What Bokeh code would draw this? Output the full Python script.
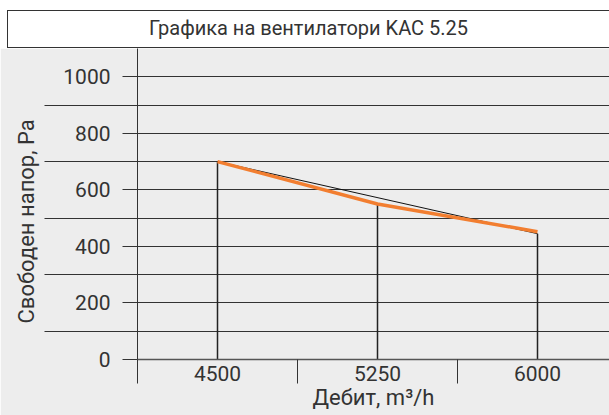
from bokeh.plotting import figure
from bokeh.models import (Range1d, FixedTicker, LinearAxis, Title, Div,
                          CustomLabelingPolicy)
from bokeh.layouts import column
from bokeh.embed import file_html
from bokeh.resources import INLINE

# ---- data ----
title_text = "Графика на вентилатори KAC 5.25"
flow_labels = ["4500", "5250", "6000"]
curve_pressure = [700, 550, 452]          # orange curve
line_flow_labels = ["4500", "6000"]       # black straight line
line_pressure = [700, 445]
drop_pressure = [700, 550, 445]           # vertical drop lines
y_major = [0, 200, 400, 600, 800, 1000]
y_minor = [100, 300, 500, 700, 900]
x_title = "Дебит, m³/h"
y_title = "Свободен напор, Pa"

BG = "#ededed"
INK = "#333333"
FONT = "Roboto"

# category positions (category i centred at i + 0.5)
pos = {lab: i + 0.5 for i, lab in enumerate(flow_labels)}
bounds = [float(i) for i in range(len(flow_labels) + 1)]

no_labels = CustomLabelingPolicy(code="return new Set()")

# ---- title box ----
header = Div(text=title_text, width=602, height=38, margin=(10, 0, 0, 7),
             styles={"border": "1px solid #333333", "border-right": "none",
                     "box-sizing": "border-box", "background-color": "white",
                     "font-family": FONT, "font-size": "20px", "color": INK,
                     "text-align": "center", "line-height": "35px"})

# ---- main figure ----
p = figure(width=609, height=367, x_range=Range1d(0, 2.95), y_range=Range1d(0, 1100),
           output_backend="svg", toolbar_location=None,
           min_border_left=137, min_border_right=0, min_border_top=0, min_border_bottom=56)
p.background_fill_color = BG
p.border_fill_color = BG
p.outline_line_color = None

# inner x axis: category boundary ticks + zero line
xb = p.xaxis[0]
xb.ticker = FixedTicker(ticks=bounds)
xb.major_tick_out = 24
xb.major_tick_in = 0
xb.major_tick_line_color = INK
xb.axis_line_color = "#555555"
xb.axis_line_width = 1.5
xb.major_label_policy = no_labels
xb.major_label_text_font_size = "0px"
xb.major_label_standoff = 0
xb.minor_tick_line_color = None

# outer x axis: category labels + title
xl = LinearAxis(ticker=FixedTicker(ticks=[pos[l] for l in flow_labels]))
xl.major_label_overrides = {pos[l]: l for l in flow_labels}
xl.axis_line_color = None
xl.major_tick_line_color = None
xl.minor_tick_line_color = None
xl.major_tick_out = 0
xl.major_tick_in = 0
xl.major_label_standoff = -18
xl.major_label_text_font = FONT
xl.major_label_text_font_size = "21px"
xl.major_label_text_color = INK
xl.axis_label = x_title
xl.axis_label_text_font = FONT
xl.axis_label_text_font_size = "22px"
xl.axis_label_text_font_style = "normal"
xl.axis_label_text_color = INK
xl.axis_label_standoff = 1
p.add_layout(xl, "below")

# inner y axis: labelled ticks
ya = p.yaxis[0]
yt = FixedTicker(ticks=y_major, minor_ticks=y_minor)
ya.ticker = FixedTicker(ticks=y_major)
ya.major_tick_out = 15
ya.major_tick_in = 0
ya.minor_tick_line_color = None
ya.major_tick_line_color = INK
ya.axis_line_color = INK
ya.major_label_standoff = 12
ya.major_label_text_font = FONT
ya.major_label_text_font_size = "21px"
ya.major_label_text_color = INK

# outer y axis: long unlabelled ticks at odd hundreds
yo = LinearAxis(ticker=FixedTicker(ticks=y_minor))
yo.axis_line_color = None
yo.major_tick_in = 85
yo.major_tick_out = 16
yo.major_tick_line_color = INK
yo.minor_tick_line_color = None
yo.major_label_policy = no_labels
yo.major_label_text_font_size = "0px"
yo.major_label_standoff = 0
p.add_layout(yo, "left")

p.add_layout(Title(text=y_title, align="left", offset=36, vertical_align="middle",
                   text_font=FONT, text_font_size="22px", text_font_style="normal",
                   text_color=INK, standoff=10), "left")

p.xgrid.visible = False
p.ygrid.ticker = yt
p.ygrid.grid_line_color = INK
p.ygrid.minor_grid_line_color = INK

# drop lines
xs = [pos[l] for l in flow_labels]
p.segment(x0=xs, y0=[0] * len(xs), x1=xs, y1=drop_pressure, line_color="#222222", line_width=1.5)
# black straight line
p.line([pos[l] for l in line_flow_labels], line_pressure, line_color="#111111", line_width=1)
# orange curve
p.line(xs, curve_pressure, line_color="#f27e30", line_width=3.5)

layout = column(header, p, spacing=0)
open("out.html", "w").write(file_html(layout, INLINE))
